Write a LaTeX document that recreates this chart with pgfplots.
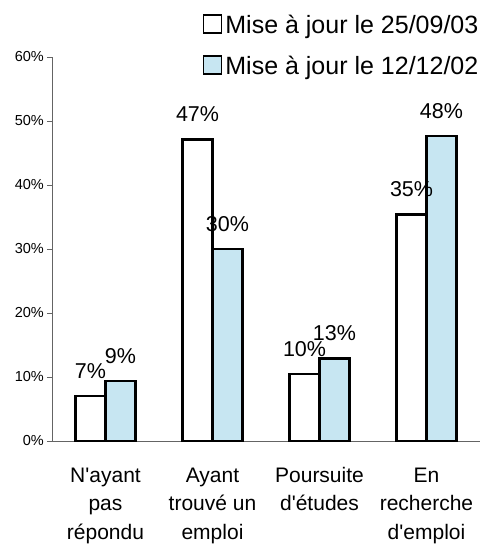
\documentclass[border=0pt]{standalone}
\usepackage{fontspec}
\setmainfont{Liberation Sans}
\newfontfamily\lib{Liberation Sans}
\usepackage{pgfplots}
\pgfplotsset{compat=1.18}
\definecolor{paleblue}{RGB}{199,230,242}
\definecolor{axgray}{RGB}{100,100,100}
\begin{document}
\begin{tikzpicture}
\useasboundingbox (-52pt,-103pt) rectangle (448pt,441pt);
\begin{axis}[
  scale only axis, width=428pt, height=384pt,
  at={(0pt,0pt)}, anchor=south west,
  xmin=-0.5, xmax=3.5, ymin=0, ymax=60,
  axis lines=left, axis line style={-, draw=axgray, line width=0.9pt},
  tick align=outside,
  major tick length=5pt, minor tick length=5pt,
  tick style={draw=axgray, line width=0.9pt},
  xtick={0,1,2,3},
  xtick style={draw=none},
  minor xtick={-0.5,0.5,1.5,2.5,3.5},
  typeset ticklabels with strut,
  xticklabels={{N'ayant\\pas\\répondu},{Ayant\\trouvé un\\emploi},{Poursuite\\d'études},{En\\recherche\\d'emploi}},
  xticklabel style={align=center, font={\lib\fontsize{21}{28.5}\selectfont}, inner sep=0pt, yshift=-16pt},
  ytick={0,10,...,60},
  yticklabel={\pgfmathprintnumber{\tick}\%},
  /pgf/number format/assume math mode=true,
  yticklabel style={font={\lib\fontsize{14.5}{16}\selectfont}, inner sep=0pt, xshift=-3pt},
  ybar=0pt, bar width=0.28,
  nodes near coords,
  point meta=explicit symbolic,
  every node near coord/.append style={font={\lib\fontsize{21.5}{24}\selectfont}, anchor=center, yshift=25pt, inner sep=0pt},
  legend style={at={(0.353,1.117)}, anchor=north west, draw=none, fill=none,
    inner sep=0pt, outer sep=0pt, row sep=17pt, column sep=3pt,
    nodes={inner sep=0pt, text height=21pt, text depth=3pt},
    font={\lib\fontsize{25}{28}\selectfont}},
  legend cell align=left,
  legend image code/.code={\draw[#1, line width=1.3pt] (0pt,-9pt) rectangle (18pt,9pt);},
  clip=false,
]
\addplot[draw=black, fill=white, line width=2.2pt] coordinates {(0,6.97) [7\%] (1,47.1) [47\%] (2,10.5) [10\%] (3,35.4) [35\%]};
\addplot[draw=black, fill=paleblue, line width=2.2pt] coordinates {(0,9.4) [9\%] (1,30.0) [30\%] (2,12.9) [13\%] (3,47.6) [48\%]};
\legend{Mise à jour le 25/09/03, Mise à jour le 12/12/02}
\end{axis}
\end{tikzpicture}
\end{document}
